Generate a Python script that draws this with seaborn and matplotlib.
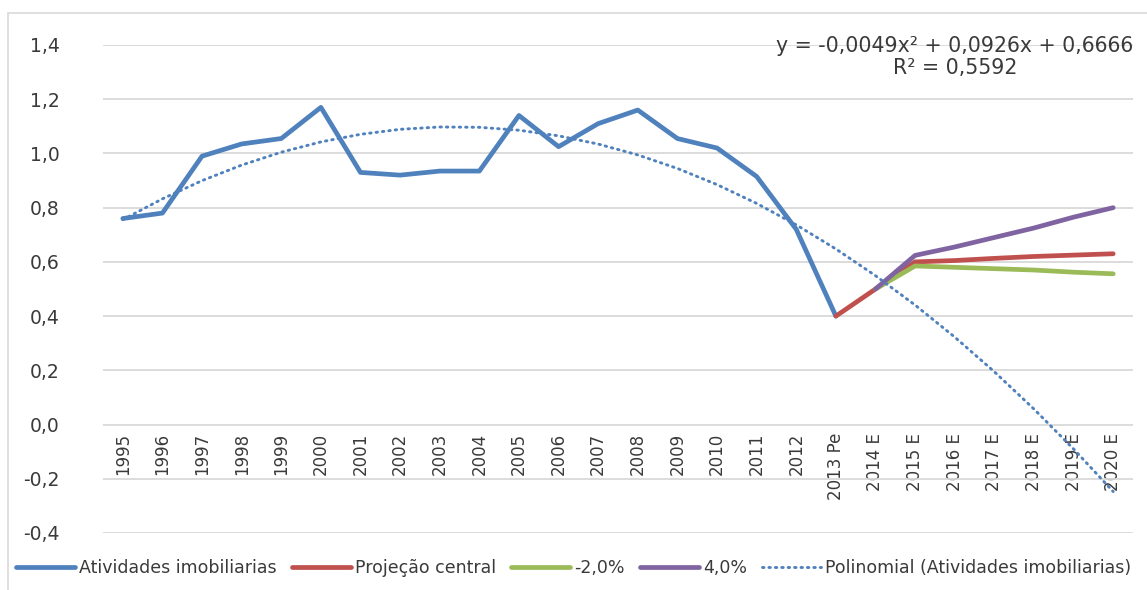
import numpy as np
import pandas as pd
import matplotlib
matplotlib.use('Agg')
import matplotlib.pyplot as plt
import seaborn as sns
from matplotlib.ticker import FuncFormatter

categories = ['1995', '1996', '1997', '1998', '1999', '2000', '2001', '2002', '2003',
              '2004', '2005', '2006', '2007', '2008', '2009', '2010', '2011', '2012',
              '2013 Pe', '2014 E', '2015 E', '2016 E', '2017 E', '2018 E', '2019 E', '2020 E']

# 1995 .. 2013 Pe
atividades = [0.76, 0.78, 0.99, 1.035, 1.055, 1.17, 0.93, 0.92, 0.935, 0.935,
              1.14, 1.025, 1.11, 1.16, 1.055, 1.02, 0.915, 0.72, 0.40]
# 2013 Pe .. 2020 E
projecao_central = [0.40, 0.50, 0.60, 0.605, 0.613, 0.62, 0.625, 0.63]
# 2014 E .. 2020 E
cenario_menos2 = [0.50, 0.585, 0.58, 0.575, 0.57, 0.562, 0.556]
cenario_mais4 = [0.50, 0.624, 0.655, 0.69, 0.725, 0.765, 0.80]

blue = '#4f81bd'
red = '#c0504d'
green = '#9bbb59'
purple = '#8064a2'
txt = '#3a3a3a'

sns.set_style('white')
plt.rcParams['font.family'] = ['DejaVu Sans']

fig = plt.figure(figsize=(11.47, 5.90), dpi=100)
ax = fig.add_axes([103 / 1147, 57 / 590, (1133 - 103) / 1147, 488 / 590])

x_all = np.arange(len(categories))
df_hist = pd.DataFrame({'x': x_all[:19], 'y': atividades})
df_central = pd.DataFrame({'x': x_all[18:], 'y': projecao_central})
df_m2 = pd.DataFrame({'x': x_all[19:], 'y': cenario_menos2})
df_p4 = pd.DataFrame({'x': x_all[19:], 'y': cenario_mais4})

# polynomial trendline (order 2) fitted on the historical series, Excel x = 1..n
coef = np.polyfit(np.arange(1, 20), atividades, 2)
df_trend = pd.DataFrame({'x': x_all, 'y': np.polyval(coef, x_all + 1)})

lw = 3.4
sns.lineplot(data=df_hist, x='x', y='y', color=blue, lw=lw, ax=ax,
             label='Atividades imobiliarias', solid_capstyle='round')
sns.lineplot(data=df_central, x='x', y='y', color=red, lw=lw, ax=ax,
             label='Projeção central', solid_capstyle='round')
sns.lineplot(data=df_m2, x='x', y='y', color=green, lw=lw, ax=ax,
             label='-2,0%', solid_capstyle='round')
sns.lineplot(data=df_p4, x='x', y='y', color=purple, lw=lw, ax=ax,
             label='4,0%', solid_capstyle='round')
sns.lineplot(data=df_trend, x='x', y='y', color=blue, lw=2.1, ax=ax,
             label='Polinomial (Atividades imobiliarias)', zorder=5)
ax.lines[-1].set_linestyle((0, (0.5, 1.7)))
ax.lines[-1].set_dash_capstyle('round')

ax.set_xlim(-0.5, len(categories) - 0.5)
ax.set_ylim(-0.4, 1.4)
ax.set_yticks(np.arange(-0.4, 1.41, 0.2))
ax.yaxis.set_major_formatter(FuncFormatter(lambda v, p: f'{v:.1f}'.replace('.', ',').replace('-0,0', '0,0')))
ax.grid(axis='y', color='#d9d9d9', lw=1.3)
ax.set_axisbelow(True)
for s in ax.spines.values():
    s.set_visible(False)
ax.spines['bottom'].set_position(('data', 0))

ax.set_xticks(x_all)
ax.set_xticklabels(categories, rotation=90, va='top', ha='center')
ax.tick_params(axis='x', length=0, pad=6, labelsize=12, labelcolor=txt)
ax.tick_params(axis='y', length=0, pad=31, labelsize=13.5, labelcolor=txt)
ax.set_xlabel('')
ax.set_ylabel('')

ax.legend_.remove()
handles, labels = ax.get_legend_handles_labels()
leg = fig.legend(handles, labels, loc='center', bbox_to_anchor=(0.5, 1 - 568 / 590),
                 ncol=5, frameon=False, fontsize=12.5, handlelength=3.4,
                 handletextpad=0.25, columnspacing=0.85, labelcolor=txt)

fig.text(955 / 1147, 1 - 57 / 590, 'y = -0,0049x² + 0,0926x + 0,6666\nR² = 0,5592',
         ha='center', va='center', fontsize=14.8, color=txt, linespacing=1.1)

fig.add_artist(plt.Rectangle((8 / 1147, -0.1), 1.2, 1 - 13 / 590 + 0.1,
                             transform=fig.transFigure, fill=False,
                             edgecolor='#d9d9d9', lw=1.2))

fig.savefig('out.png', dpi=100)
